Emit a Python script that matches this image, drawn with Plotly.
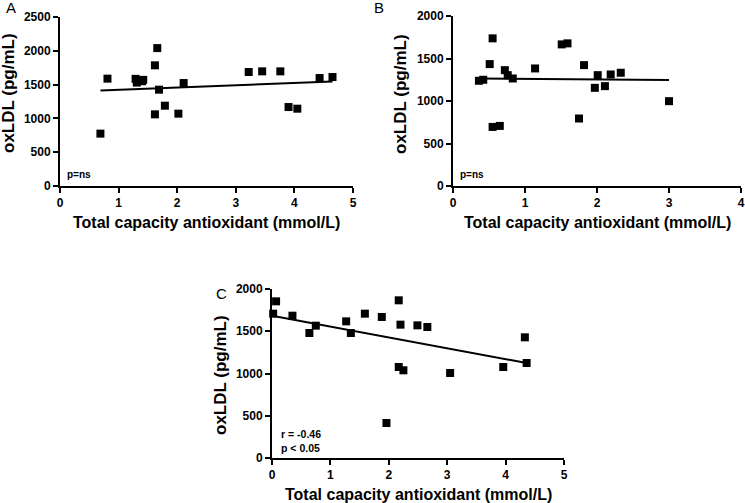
import plotly.graph_objects as go

# ---- Data ----
a_x = [0.69, 0.81, 1.29, 1.31, 1.40, 1.42, 1.62, 1.66, 1.69, 1.62, 1.79, 2.02, 2.11,
       3.22, 3.45, 3.76, 3.90, 4.05, 4.43, 4.65]
a_y = [775, 1588, 1585, 1530, 1550, 1570, 1785, 2040, 1425, 1060, 1188, 1070, 1523,
       1686, 1696, 1696, 1168, 1144, 1597, 1612]
a_fit_x = [0.69, 4.65]
a_fit_y = [1412, 1547]

b_x = [0.36, 0.42, 0.51, 0.55, 0.55, 0.65, 0.72, 0.76, 0.83, 1.14, 1.51, 1.59, 1.75,
       1.82, 1.97, 2.01, 2.11, 2.19, 2.33, 3.00]
b_y = [1238, 1250, 1434, 1737, 695, 707, 1363, 1304, 1265, 1383, 1666, 1678, 794,
       1422, 1155, 1304, 1175, 1312, 1332, 998]
b_fit_x = [0.36, 3.00]
b_fit_y = [1264, 1247]

c_x = [0.02, 0.07, 0.35, 0.64, 0.75, 1.27, 1.35, 1.59, 1.88, 1.96, 2.17, 2.20, 2.17,
       2.25, 2.49, 2.66, 3.05, 3.96, 4.33, 4.36]
c_y = [1708, 1854, 1684, 1479, 1566, 1617, 1479, 1708, 1669, 414, 1866, 1578, 1077,
       1038, 1570, 1550, 1006, 1077, 1428, 1124]
c_fit_x = [0.0, 4.36]
c_fit_y = [1684, 1124]

x_title = "Total capacity antioxidant (mmol/L)"
y_title = "oxLDL (pg/mL)"

W, H = 745, 503
FONT = "Liberation Sans, Arial, sans-serif"

def px_x(v):
    return v / W

def px_y(v):
    return 1 - v / H

panels = [
    # name, xs, ys, fitx, fity, xrange, yrange, plot box (l, r, t, b),
    # y-title centre (x, y), letter position (x, y), x-title y
    ("A", a_x, a_y, a_fit_x, a_fit_y, [0, 5], [0, 2500], (60, 353, 17, 186),
     (8, 93), (4, 8), 222),
    ("B", b_x, b_y, b_fit_x, b_fit_y, [0, 4], [0, 2000], (453, 741, 16, 186),
     (401, 94), (372, 8), 222),
    ("C", c_x, c_y, c_fit_x, c_fit_y, [0, 5], [0, 2000], (272, 564, 289, 458),
     (220, 375), (214, 293), 494),
]

fig = go.Figure()
annotations = []
layout = {}

for i, (name, xs, ys, fx, fy, xr, yr, box, ytpos, letpos, xty) in enumerate(panels):
    n = "" if i == 0 else str(i + 1)
    xa, ya = "x" + n, "y" + n
    l, r, t, b = box
    fig.add_trace(go.Scatter(x=xs, y=ys, mode="markers", xaxis=xa, yaxis=ya,
                             marker=dict(symbol="square", size=8, color="black"),
                             cliponaxis=False, showlegend=False, hoverinfo="skip"))
    fig.add_trace(go.Scatter(x=fx, y=fy, mode="lines", xaxis=xa, yaxis=ya,
                             line=dict(color="black", width=2),
                             cliponaxis=False, showlegend=False, hoverinfo="skip"))
    axis_common = dict(showline=True, linecolor="black", linewidth=2,
                       ticks="outside", ticklen=5, tickwidth=2, tickcolor="black",
                       showgrid=False, zeroline=False, automargin=False,
                       tickfont=dict(family=FONT, size=12, color="black", weight="bold"))
    layout["xaxis" + n] = dict(axis_common, range=xr, dtick=1, tick0=0,
                               domain=[px_x(l), px_x(r)], anchor=ya)
    layout["yaxis" + n] = dict(axis_common, range=yr, dtick=500, tick0=0,
                               domain=[px_y(b), px_y(t)], anchor=xa)
    annotations.append(dict(text=x_title, x=px_x((l + r) / 2), y=px_y(xty),
                            xref="paper", yref="paper", showarrow=False,
                            xanchor="center", yanchor="middle",
                            font=dict(family=FONT, size=16, color="black", weight="bold")))
    annotations.append(dict(text=y_title, x=px_x(ytpos[0]), y=px_y(ytpos[1]),
                            xref="paper", yref="paper", showarrow=False, textangle=-90,
                            xanchor="center", yanchor="middle",
                            font=dict(family=FONT, size=17, color="black", weight="bold")))
    annotations.append(dict(text=name, x=px_x(letpos[0]), y=px_y(letpos[1]),
                            xref="paper", yref="paper", showarrow=False,
                            xanchor="left", yanchor="middle",
                            font=dict(family=FONT, size=15, color="black")))

# Stats text
stat_font = dict(family=FONT, size=10, color="black", weight="bold")
annotations.append(dict(text="p=ns", x=px_x(65), y=px_y(174), xref="paper", yref="paper",
                        showarrow=False, xanchor="left", yanchor="middle", font=stat_font))
annotations.append(dict(text="p=ns", x=px_x(458), y=px_y(174), xref="paper", yref="paper",
                        showarrow=False, xanchor="left", yanchor="middle", font=stat_font))
stat_font_c = dict(stat_font, size=10.5)
annotations.append(dict(text="r = -0.46", x=px_x(279), y=px_y(434), xref="paper", yref="paper",
                        showarrow=False, xanchor="left", yanchor="middle", font=stat_font_c))
annotations.append(dict(text="p < 0.05", x=px_x(279), y=px_y(448), xref="paper", yref="paper",
                        showarrow=False, xanchor="left", yanchor="middle", font=stat_font_c))

fig.update_layout(width=W, height=H, margin=dict(l=0, r=0, t=0, b=0, autoexpand=False),
                  plot_bgcolor="white", paper_bgcolor="white", hovermode=False,
                  annotations=annotations, **layout)

fig.write_html("out.html", config={"displayModeBar": False},
               post_script="document.body.style.margin='0px';"
                           "document.body.style.overflow='hidden';")
